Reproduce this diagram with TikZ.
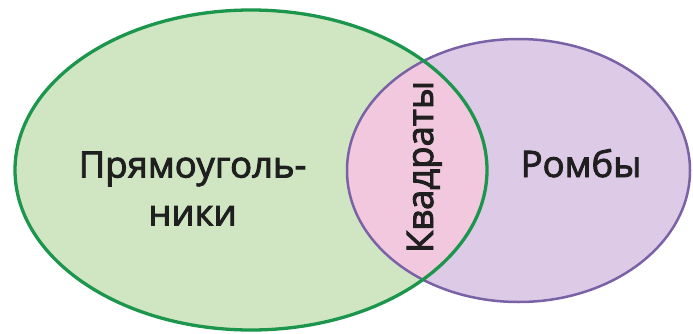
\documentclass[tikz,border=0pt]{standalone}
\usepackage{fontspec}
\newfontfamily\labelfont{Open Sans}[FakeBold=2.5]
\definecolor{rectfill}{RGB}{208,230,194}
\definecolor{rectline}{RGB}{28,150,76}
\definecolor{rhfill}{RGB}{220,202,230}
\definecolor{rhline}{RGB}{122,98,166}
\definecolor{sqfill}{RGB}{242,200,222}
\begin{document}
\begin{tikzpicture}[x=1pt,y=1pt,
  label/.style={font=\labelfont\fontsize{36.5}{48}\selectfont, text=black!88, align=center, inner sep=0pt}]
\useasboundingbox (0,0) rectangle (693,333);
% set regions
\fill[rectfill] (251,163) ellipse [x radius=236, y radius=160];
\fill[rhfill] (518.5,162.5) ellipse [x radius=171.5, y radius=131.5];
\begin{scope}
  \clip (251,163) ellipse [x radius=236, y radius=160];
  \fill[sqfill] (518.5,162.5) ellipse [x radius=171.5, y radius=131.5];
\end{scope}
% outlines
\draw[rhline, line width=2.5] (518.5,162.5) ellipse [x radius=171.5, y radius=131.5];
\draw[rectline, line width=3.3] (251,163) ellipse [x radius=236, y radius=160];
% labels
\node[label] (rect) at (192.5,144.5) {Прямоуголь-\\ники};
\node[label, anchor=base] (rhomb) at (581,156) {Ромбы};
\node[label, rotate=90, anchor=base] (square) at (433,166) {Квадраты};
\end{tikzpicture}
\end{document}
